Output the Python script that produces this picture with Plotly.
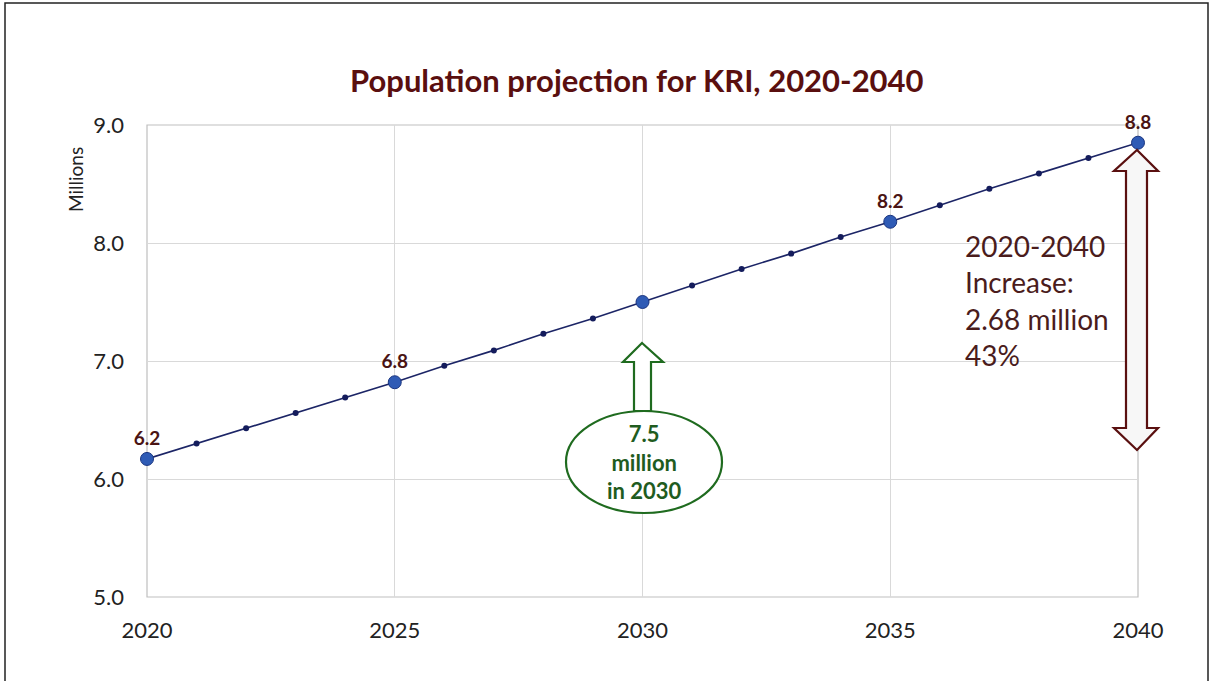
import plotly.graph_objects as go

# ---- data ----
years = list(range(2020, 2041))
population = [6.17, 6.30, 6.43, 6.56, 6.69, 6.82, 6.96, 7.09, 7.23, 7.36, 7.50,
              7.64, 7.78, 7.91, 8.05, 8.18, 8.32, 8.46, 8.59, 8.72, 8.85]
key_years = [2020, 2025, 2030, 2035, 2040]
key_labels = ["6.2", "6.8", "", "8.2", "8.8"]
x_ticks = [2020, 2025, 2030, 2035, 2040]
y_ticks = [5.0, 6.0, 7.0, 8.0, 9.0]
title_text = "Population projection for KRI, 2020-2040"
ellipse_text = "7.5<br>million<br>in 2030"
increase_text = "2020-2040<br>Increase:<br>2.68 million<br>43%"

W, H = 1211, 681
L, R, T, B = 147, 1138, 125, 597

def px(xp):
    return (xp - L) / (R - L)

def py(yp):
    return (B - yp) / (B - T)

key_vals = [population[years.index(y)] for y in key_years]

FONT = "Lato"
fig = go.Figure()
fig.add_trace(go.Scatter(
    x=years, y=population, mode="lines+markers",
    line=dict(color="#1c2566", width=1.6),
    marker=dict(size=6, color="#141c5c"),
    hoverinfo="skip", showlegend=False, cliponaxis=False))
fig.add_trace(go.Scatter(
    x=key_years, y=key_vals, mode="markers+text",
    marker=dict(size=13, color="#2f5bb5", line=dict(color="#1a3580", width=1)),
    text=key_labels, textposition="top center",
    textfont=dict(family=FONT, size=19, color="#4a1414", weight="bold"),
    hoverinfo="skip", showlegend=False, cliponaxis=False))

shapes = []
# outer border
shapes.append(dict(type="rect", xref="paper", yref="paper",
                   x0=px(5), x1=px(1208), y0=py(3), y1=py(700),
                   line=dict(color="#222222", width=1.5), fillcolor="rgba(0,0,0,0)", layer="below"))
# plot area box
shapes.append(dict(type="rect", xref="paper", yref="paper",
                   x0=0, x1=1, y0=0, y1=1,
                   line=dict(color="#bfbfbf", width=1.2), fillcolor="rgba(0,0,0,0)", layer="below"))

# green up arrow
ga = [(642, 343), (663, 362), (651, 362), (651, 411), (634, 411), (634, 362), (623, 362)]
path = "M " + " L ".join(f"{px(a):.5f},{py(b):.5f}" for a, b in ga) + " Z"
shapes.append(dict(type="path", xref="paper", yref="paper", path=path,
                   line=dict(color="#1f6b1f", width=2.2), fillcolor="white"))
# ellipse
shapes.append(dict(type="circle", xref="paper", yref="paper",
                   x0=px(566), x1=px(722), y0=py(513), y1=py(411),
                   line=dict(color="#1f6b1f", width=2.2), fillcolor="white"))

# double arrow
da = [(1137, 150), (1158, 171), (1147, 171), (1147, 428), (1158, 428), (1137, 450),
      (1114, 428), (1126, 428), (1126, 171), (1114, 171)]
path2 = "M " + " L ".join(f"{px(a):.5f},{py(b):.5f}" for a, b in da) + " Z"
shapes.append(dict(type="path", xref="paper", yref="paper", path=path2,
                   line=dict(color="#5a1010", width=2.2), fillcolor="#f7f7f7"))

annotations = [
    dict(text=title_text, xref="paper", yref="paper", x=px(637), y=py(80),
         showarrow=False, font=dict(family=FONT, size=31, color="#5a0f0f", weight="bold"),
         xanchor="center", yanchor="middle"),
    dict(text="Millions", xref="paper", yref="paper", x=px(75), y=py(180),
         showarrow=False, textangle=-90, font=dict(family=FONT, size=19, color="#222222"),
         xanchor="center", yanchor="middle"),
    dict(text=ellipse_text, xref="paper", yref="paper", x=px(644), y=py(462),
         showarrow=False, font=dict(family=FONT, size=22, color="#1f5c1f", weight="bold"),
         xanchor="center", yanchor="middle", align="center"),
    dict(text=increase_text, xref="paper", yref="paper", x=px(963), y=py(300),
         showarrow=False, font=dict(family=FONT, size=28, color="#4a1c1c"),
         xanchor="left", yanchor="middle", align="left"),
]

fig.update_layout(
    width=W, height=H,
    margin=dict(l=L, r=W - R, t=T, b=H - B),
    paper_bgcolor="white", plot_bgcolor="white",
    shapes=shapes, annotations=annotations,
    xaxis=dict(range=[2020, 2040], tickvals=x_ticks, ticktext=[str(v) for v in x_ticks],
               showgrid=True, gridcolor="#d9d9d9", gridwidth=1.2, zeroline=False,
               showline=False, ticks="", ticklen=0, ticklabelstandoff=18,
               tickfont=dict(family=FONT, size=22, color="#222222")),
    yaxis=dict(range=[5, 9], tickvals=y_ticks, ticktext=[f"{v:.1f}" for v in y_ticks],
               showgrid=True, gridcolor="#d9d9d9", gridwidth=1.2, zeroline=False,
               showline=False, ticks="", ticklen=0, ticklabelstandoff=22,
               tickfont=dict(family=FONT, size=22, color="#222222")),
)

fig.write_html("out.html")
